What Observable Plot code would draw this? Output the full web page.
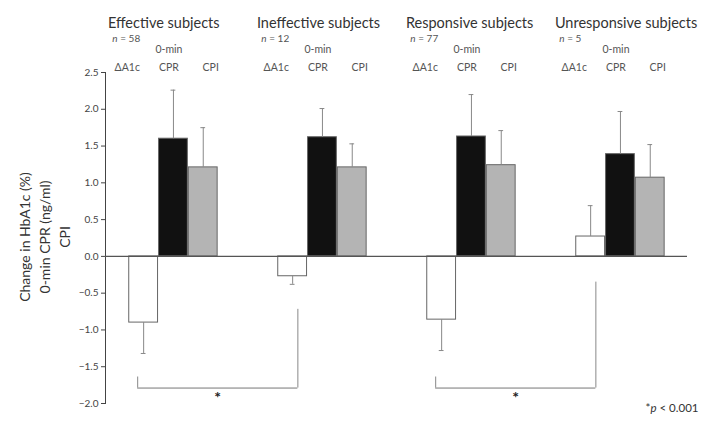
<!DOCTYPE html>
<html>
<head>
<meta charset="utf-8">
<script src="https://cdn.jsdelivr.net/npm/d3@7"></script>
<script src="https://cdn.jsdelivr.net/npm/@observablehq/plot@0.6"></script>
<style>
  html, body { margin: 0; padding: 0; background: #fff; }
  #chart svg { display: block; }
</style>
</head>
<body>
<div id="chart"></div>
<script>
// ---- data ----
const groups = ["Effective subjects", "Ineffective subjects", "Responsive subjects", "Unresponsive subjects"];
const nLabels = ["n = 58", "n = 12", "n = 77", "n = 5"];
const measures = ["ΔA1c", "CPR", "CPI"];
const measureLabels = ["ΔA1c", "0-min\nCPR", "CPI"];
const dA1c   = [-0.90, -0.27, -0.86, 0.27];
const dA1cSD = [ 0.42,  0.11,  0.42, 0.42];
const cpr    = [ 1.60,  1.62,  1.63, 1.39];
const cprSD  = [ 0.66,  0.39,  0.57, 0.58];
const cpi    = [ 1.21,  1.21,  1.24, 1.07];
const cpiSD  = [ 0.54,  0.32,  0.47, 0.45];
const bracketFrom     = [0, 2];
const bracketTo       = [1, 3];
const bracketBottom   = [-1.79, -1.79];
const bracketLeftTop  = [-1.64, -1.64];
const bracketRightTop = [-0.72, -0.35];
const yTicks = [-2.0, -1.5, -1.0, -0.5, 0.0, 0.5, 1.0, 1.5, 2.0, 2.5];
const footnote = "*p < 0.001";

// ---- tables ----
const valueSets = [dA1c, cpr, cpi];
const sdSets = [dA1cSD, cprSD, cpiSD];
const rows = [];
groups.forEach((g, gi) => measures.forEach((m, mi) => {
  rows.push({g: gi, m: mi, measure: m, value: valueSets[mi][gi], sd: sdSets[mi][gi]});
}));
const labelRows = [];
groups.forEach((g, gi) => measureLabels.forEach((t, mi) => labelRows.push({g: gi, m: mi, text: t})));
const brackets = bracketFrom.map((f, i) => ({from: f, to: bracketTo[i], bottom: bracketBottom[i], lt: bracketLeftTop[i], rt: bracketRightTop[i]}));

const BW = 0.2; // bar width in group units
const xc = d => d.g + (d.m - 1) * BW;
const end = d => d.value + Math.sign(d.value) * d.sd;
const labelOffset = [-0.31, -0.03, 0.25];

const font = "Lato, 'Open Sans', sans-serif";
const ink = "#444";

const chart = Plot.plot({
  width: 715,
  height: 425,
  marginLeft: 105,
  marginRight: 28,
  marginTop: 72,
  marginBottom: 22,
  style: {fontFamily: font, color: ink, background: "#fff"},
  x: {type: "linear", domain: [-0.456, 3.45], axis: null},
  y: {domain: [-2, 2.5], ticks: yTicks, tickFormat: d3.format(".1f"), tickSize: 4, tickPadding: 3, line: true, label: null, fontSize: 12.5},
  color: {domain: measures, range: ["#ffffff", "#111111", "#b4b4b4"]},
  marks: [
    // bars
    Plot.rectY(rows, {x1: d => xc(d) - BW / 2, x2: d => xc(d) + BW / 2, y1: 0, y2: "value",
      fill: "measure", stroke: "#666", strokeWidth: 1, insetLeft: 0.5, insetRight: 0.5}),
    // error bars
    Plot.ruleX(rows, {x: xc, y1: "value", y2: end, stroke: "#888", strokeWidth: 1}),
    Plot.ruleY(rows, {x1: d => xc(d) - 0.016, x2: d => xc(d) + 0.016, y: end, stroke: "#888", strokeWidth: 1}),
    // zero line
    Plot.ruleY([0], {stroke: "#555", strokeWidth: 1.2}),
    // significance brackets
    Plot.ruleX(brackets, {x: d => d.from - 0.24, y1: "lt", y2: "bottom", stroke: "#888"}),
    Plot.ruleX(brackets, {x: d => d.to - 0.165, y1: "rt", y2: "bottom", stroke: "#888"}),
    Plot.ruleY(brackets, {x1: d => d.from - 0.24, x2: d => d.to - 0.165, y: "bottom", stroke: "#777"}),
    Plot.text(brackets, {x: d => (d.from - 0.24 + d.to - 0.165) / 2, y: "bottom", text: () => "*",
      dy: 10, fontSize: 16, fontWeight: "bold", fill: "#222"}),
    // group titles
    Plot.text(groups, {x: (d, i) => i - 0.44, text: d => d, frameAnchor: "top", dy: -55,
      textAnchor: "start", fontSize: 14.5, fill: "#333"}),
    Plot.text(nLabels, {x: (d, i) => i - 0.41, text: d => d, frameAnchor: "top", dy: -38,
      textAnchor: "start", fontSize: 10, fill: "#555"}),
    // measure labels
    Plot.text(labelRows, {x: d => d.g + labelOffset[d.m], text: "text", frameAnchor: "top",
      lineAnchor: "bottom", dy: -2, fontSize: 10.5, lineHeight: 1.7, fill: "#555"}),
    // y-axis title
    Plot.text(["Change in HbA1c (%)\n0-min CPR (ng/ml)\nCPI"], {frameAnchor: "left", text: d => d, rotate: -90,
      textAnchor: "middle", dx: -62, dy: -1, fontSize: 14, lineHeight: 1.45, fill: "#333"}),
    // footnote
    Plot.text([footnote], {frameAnchor: "bottom-right", text: d => d, textAnchor: "end",
      dx: 11, dy: 8, fontSize: 11.5, fill: "#333"})
  ]
});

// italicize the statistical symbols n and p
d3.select(chart).selectAll("text").each(function () {
  const t = this.textContent;
  const m = /^(\*?)([np])( .*)$/.exec(t);
  if (m && this.childElementCount === 0) {
    const el = d3.select(this).text(null);
    if (m[1]) el.append("tspan").text(m[1]);
    el.append("tspan").attr("font-style", "italic").text(m[2]);
    el.append("tspan").text(m[3]);
  }
});

document.getElementById("chart").appendChild(chart);
</script>
</body>
</html>
